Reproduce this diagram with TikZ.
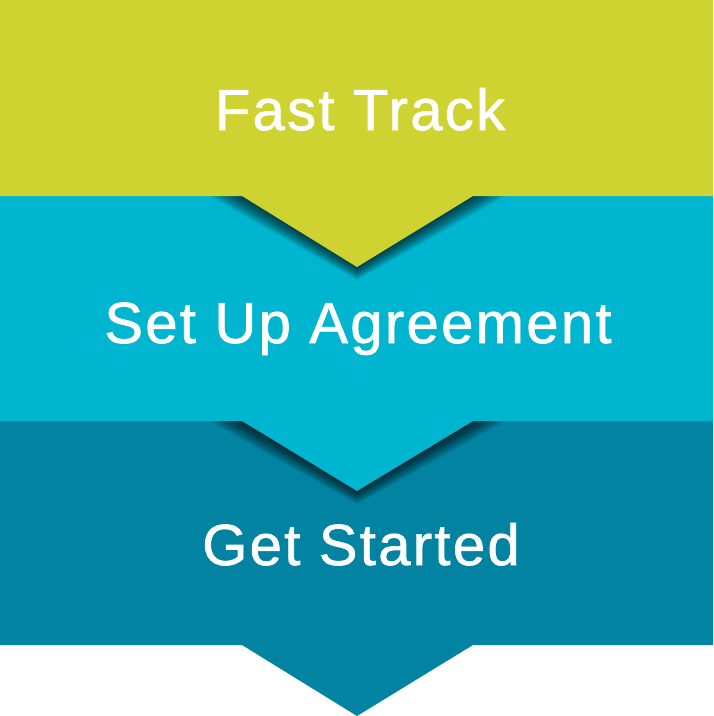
\documentclass[tikz,border=0pt]{standalone}
\usepackage{fontspec}
\newfontfamily\bandfont[LetterSpace=4,FakeBold=1.2]{Liberation Sans}
\definecolor{bandgreen}{RGB}{206,211,50}
\definecolor{bandteal}{RGB}{0,181,207}
\definecolor{banddark}{RGB}{2,131,161}
\tikzset{
  bandlabel/.style={text=white, font=\bandfont\fontsize{58}{60}\selectfont, anchor=base, inner sep=0pt},
  shadowlayer/.style={fill=black, opacity=0.04}
}
\begin{document}
\begin{tikzpicture}[x=1pt,y=-1pt]
\useasboundingbox (0,0) rectangle (714,716);
% dark band
\fill[banddark] (0,421) -- (713,421) -- (713,645) -- (473,645) -- (357,716) -- (242,645) -- (0,645) -- cycle;
\begin{scope}
  \clip (0,421) rectangle (713,645);
  \foreach \d in {1,...,22}
    \fill[shadowlayer] (242-1.5*\d,421) -- (357,491+0.6*\d) -- (473+1.5*\d,421) -- cycle;
\end{scope}
% teal band
\fill[bandteal] (0,196) -- (713,196) -- (713,421) -- (473,421) -- (357,491) -- (242,421) -- (0,421) -- cycle;
\begin{scope}
  \clip (0,196) rectangle (713,421);
  \foreach \d in {1,...,22}
    \fill[shadowlayer] (242-1.5*\d,196) -- (357,267+0.6*\d) -- (473+1.5*\d,196) -- cycle;
\end{scope}
% green band
\fill[bandgreen] (0,0) -- (713,0) -- (713,196) -- (473,196) -- (357,267) -- (242,196) -- (0,196) -- cycle;
% labels
\node[bandlabel] (fast) at (360,130) {Fast Track};
\node[bandlabel] (setup) at (358,343) {Set Up Agreement};
\node[bandlabel] (start) at (361,565) {Get Started};
\end{tikzpicture}
\end{document}
